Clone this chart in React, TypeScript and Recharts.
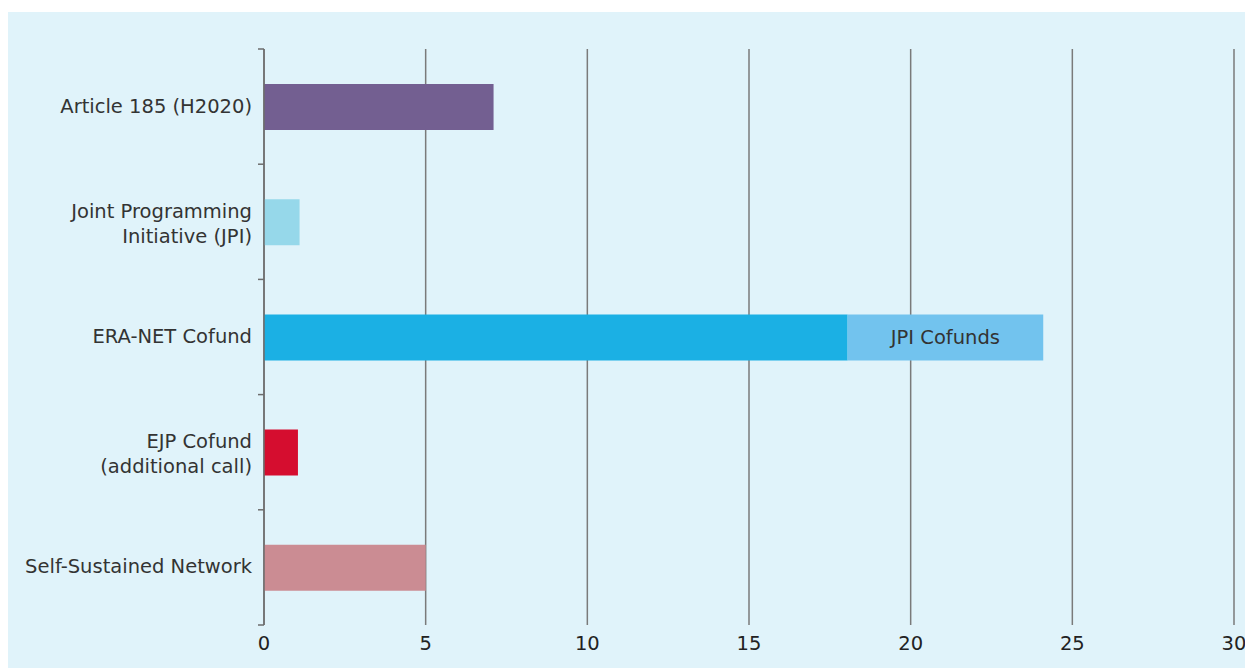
import React from 'react';
import { BarChart, Bar, XAxis, YAxis, CartesianGrid, Cell, LabelList } from 'recharts';

const categories = [
  'Article 185 (H2020)',
  'Joint Programming\nInitiative (JPI)',
  'ERA-NET Cofund',
  'EJP Cofund\n(additional call)',
  'Self-Sustained Network',
];
const baseValues = [7.1, 1.1, 18.05, 1.05, 5];
const extraValues = [0, 0, 6.05, 0, 0];
const extraLabels = ['', '', 'JPI Cofunds', '', ''];
const baseColors = ['#735f91', '#96d8ea', '#1bb0e4', '#d50d2f', '#cb8c93'];
const extraColor = '#72c3ee';
const xTicks = [0, 5, 10, 15, 20, 25, 30];

const data = categories.map((name, i) => ({
  name,
  base: baseValues[i],
  extra: extraValues[i],
  extraLabel: extraLabels[i],
}));

const FONT = '"DejaVu Sans", sans-serif';
const TEXT = '#333333';
const FS = 19.5;
const AXIS = '#6d6d6d';
const TICK_SIZE = 6;
const TICK_MARGIN = 6;

const CategoryTick = (props: any) => {
  const { x, y, payload, index } = props;
  const lines: string[] = String(payload.value).split('\n');
  const n = lines.length;
  const half = payload.offset || 0;
  const ax = x + TICK_SIZE + TICK_MARGIN;
  const last = index === categories.length - 1;
  return (
    <g>
      <line x1={ax - TICK_SIZE} x2={ax} y1={y - half} y2={y - half} stroke={AXIS} strokeWidth={1.5} />
      {last && <line x1={ax - TICK_SIZE} x2={ax} y1={y + half} y2={y + half} stroke={AXIS} strokeWidth={1.5} />}
      <text x={x} y={y} textAnchor="end" fill={TEXT} fontSize={FS} fontFamily={FONT}>
        {lines.map((line, i) => (
          <tspan key={i} x={x} dy={i === 0 ? (n === 1 ? 6 : -4) : 25}>
            {line}
          </tspan>
        ))}
      </text>
    </g>
  );
};

export default function App() {
  return (
    <div style={{ paddingTop: 4 }}>
      <div style={{ width: 1245, height: 656, background: '#e0f3fa' }}>
        <BarChart
          width={1245}
          height={656}
          data={data}
          layout="vertical"
          margin={{ top: 37, right: 19, left: 0, bottom: 0 }}
          barSize={46}
        >
          <CartesianGrid horizontal={false} stroke="#7a7a7a" strokeWidth={1.5} />
          <XAxis
            type="number"
            domain={[0, 30]}
            ticks={xTicks}
            axisLine={false}
            tickLine={false}
            tickSize={6}
            tickMargin={5}
            height={43}
            tick={{ fill: '#222', fontSize: FS, fontFamily: FONT }}
            interval={0}
          />
          <YAxis
            type="category"
            dataKey="name"
            width={256}
            axisLine={{ stroke: AXIS, strokeWidth: 1.5 }}
            tickLine={false}
            tickSize={TICK_SIZE}
            tickMargin={TICK_MARGIN}
            tick={<CategoryTick />}
            interval={0}
          />
          <Bar dataKey="base" stackId="s" isAnimationActive={false}>
            {data.map((d, i) => (
              <Cell key={i} fill={baseColors[i]} />
            ))}
          </Bar>
          <Bar dataKey="extra" stackId="s" fill={extraColor} isAnimationActive={false}>
            <LabelList dataKey="extraLabel" position="center" fill={TEXT} fontSize={FS} fontFamily={FONT} />
          </Bar>
        </BarChart>
      </div>
    </div>
  );
}
